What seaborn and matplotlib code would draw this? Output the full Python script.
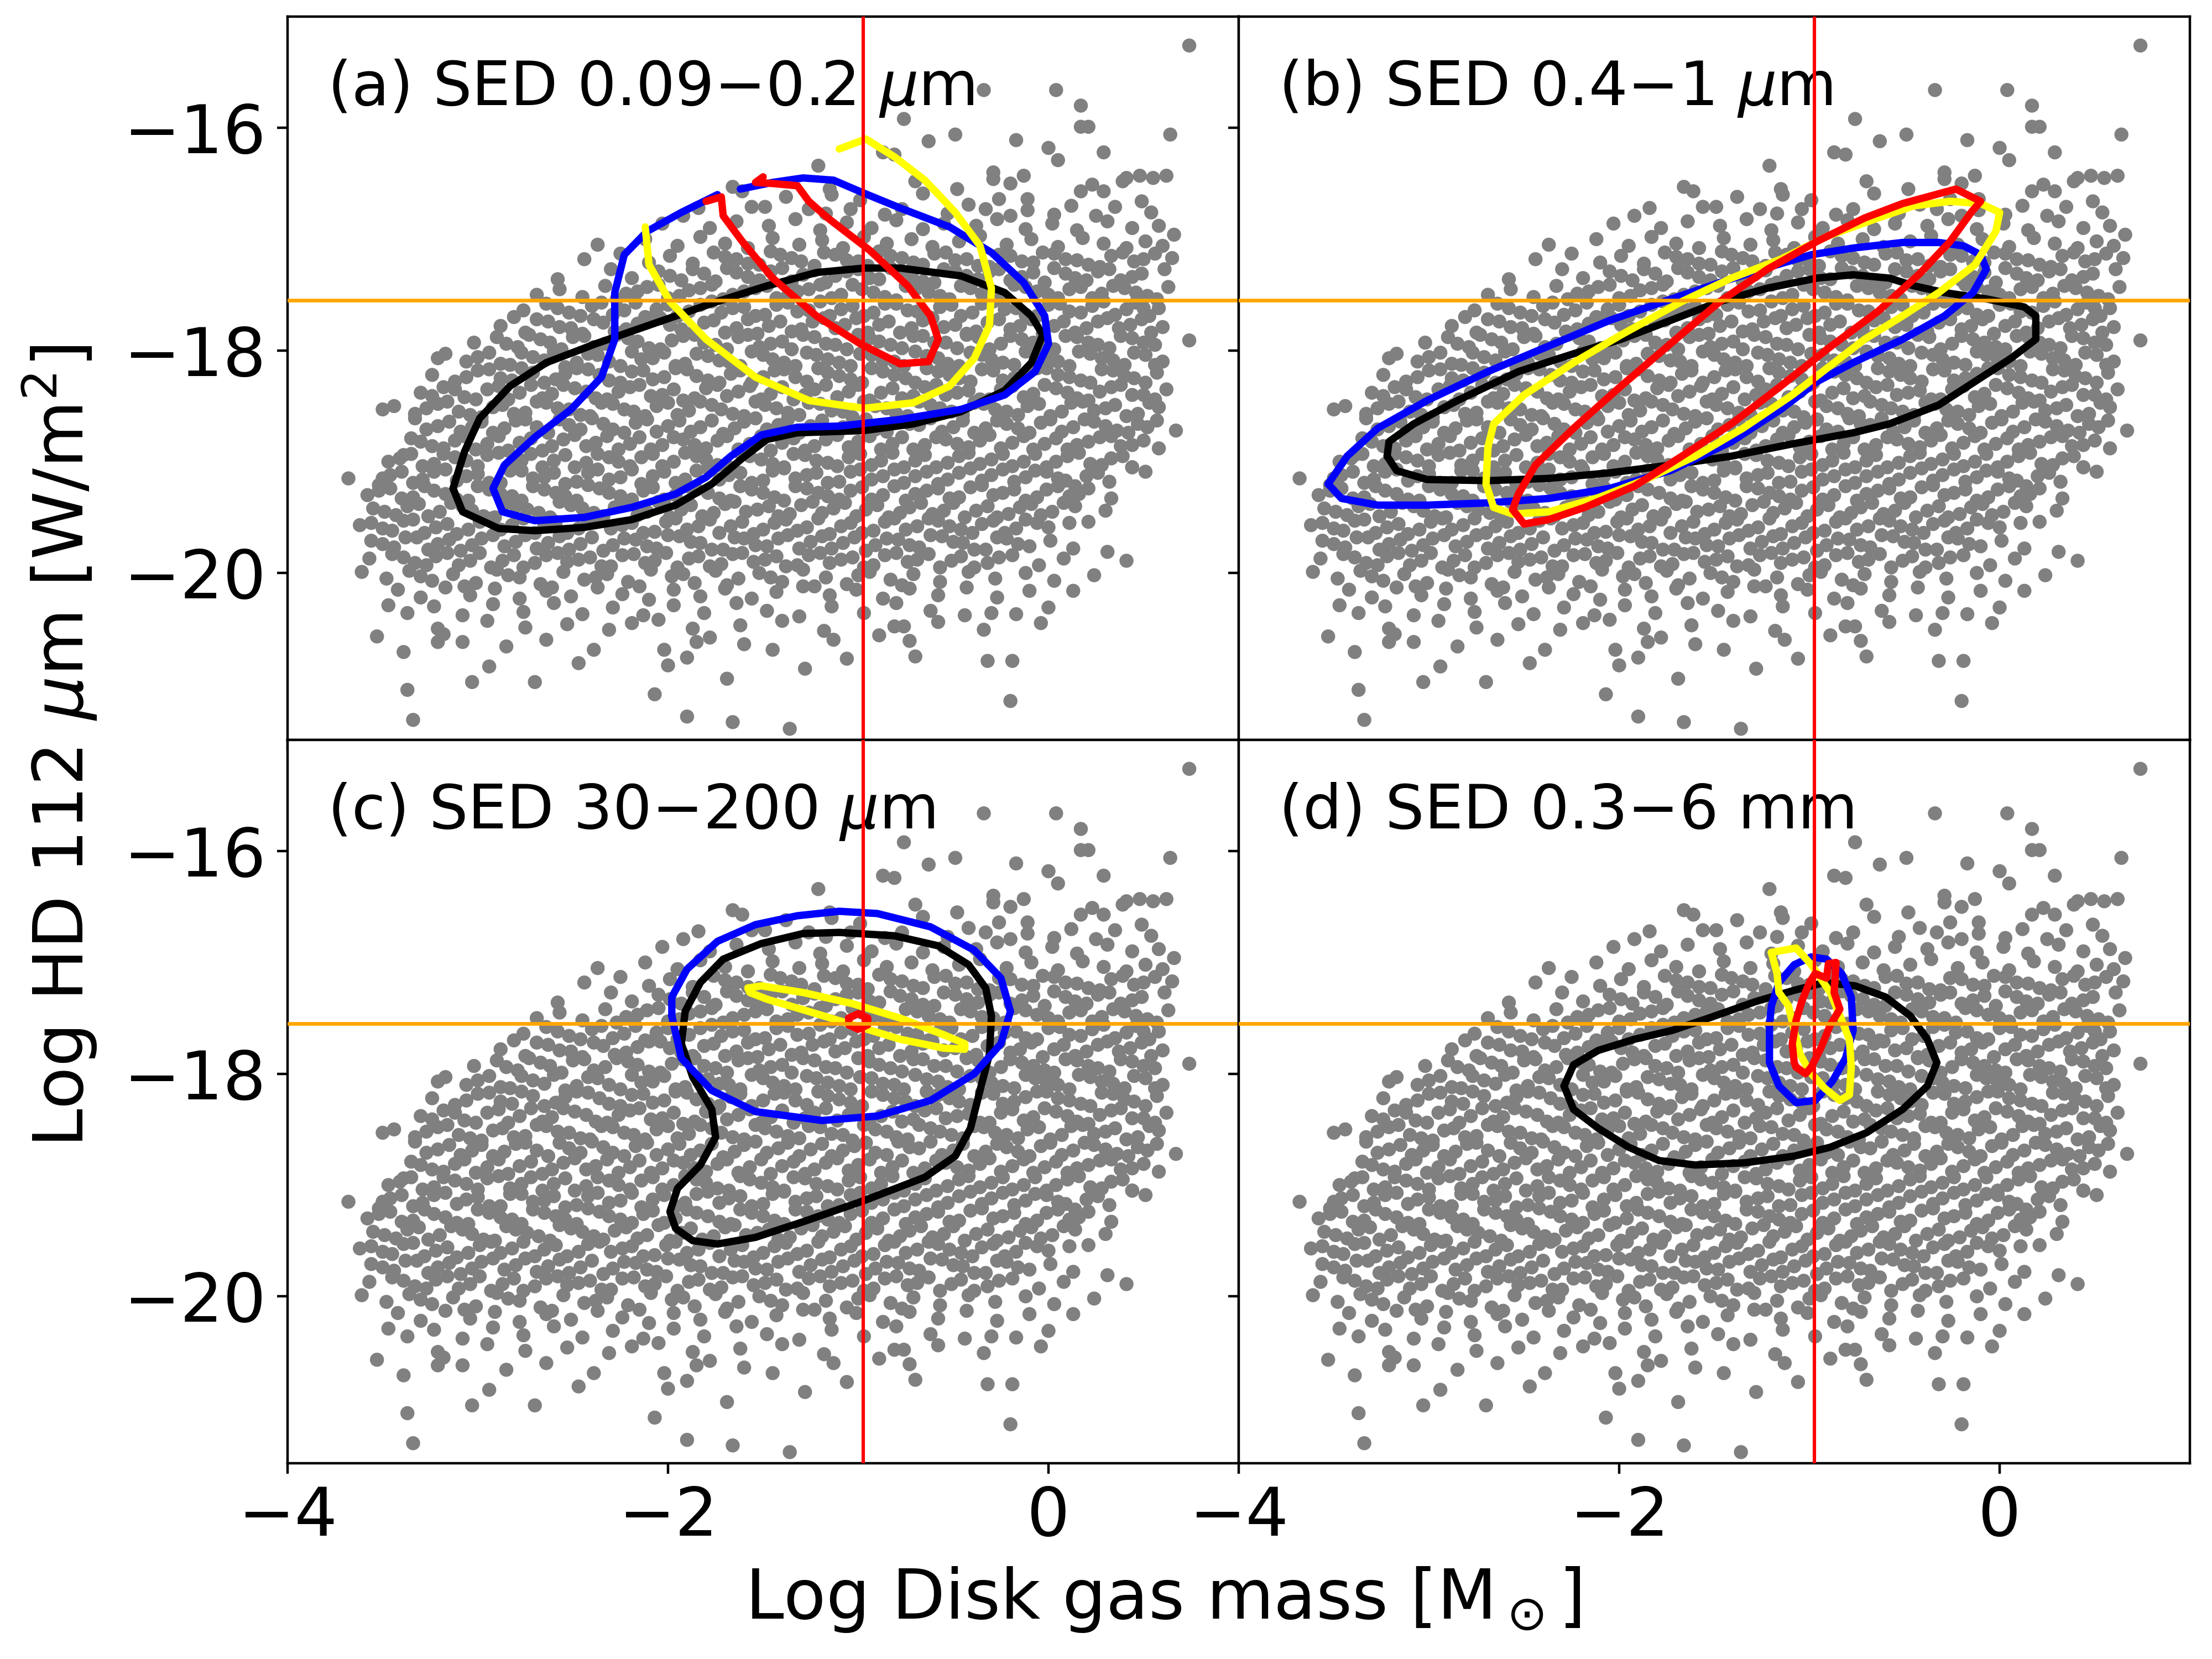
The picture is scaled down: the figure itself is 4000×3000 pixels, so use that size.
"""
HD 112 um line flux vs disk gas mass, four SED wavelength windows.

Grey cloud = full model grid (same in every panel), coloured lines =
density contours of the models that fit each SED window.
"""

import numpy as np
import pandas as pd
import matplotlib
matplotlib.use("Agg")
import matplotlib.pyplot as plt
import seaborn as sns

# ---------------------------------------------------------------------------
# data
# ---------------------------------------------------------------------------

# model grid: (log disk gas mass, log HD 112um flux)
CLOUD_MAIN = [
    # sparse top
    (0.74, -15.26), (-0.34, -15.66), (0.04, -15.66), (0.17, -15.80), (0.17, -15.99), (0.21, -15.99),
    (-0.76, -15.92), (-0.49, -16.06), (-0.63, -16.12), (-0.17, -16.11), (0.64, -16.06), (0.00, -16.18),
    (0.05, -16.29), (0.29, -16.22), (-0.87, -16.22), (-0.81, -16.24), (-1.21, -16.34), (-0.70, -16.48),
    (-0.29, -16.40), (-0.29, -16.46), (-0.13, -16.43), (-0.20, -16.50), (0.39, -16.48), (0.41, -16.45),
    (0.48, -16.43), (0.55, -16.45), (0.62, -16.43),
    (-0.48, -16.55), (-0.66, -16.59), (-1.15, -16.55), (-1.14, -16.60), (-1.66, -16.53), (-1.61, -16.57),
    (-1.38, -16.62), (-0.99, -16.65), (0.23, -16.51), (0.17, -16.57), (0.29, -16.57), (0.49, -16.66),
    (0.54, -16.76), (0.35, -16.71), (0.12, -16.70), (-0.26, -16.64), (-0.33, -16.73), (-0.11, -16.64),
    (-0.11, -16.74), (-0.53, -16.77), (-0.77, -16.73), (-1.04, -16.73), (-1.26, -16.73), (-1.17, -16.77),
    (-1.49, -16.71), (-1.56, -16.71), (-1.84, -16.72), (-1.92, -16.79), (0.03, -16.78), (-0.42, -16.69),
    (-0.86, -16.78), (0.25, -16.79), (-0.20, -16.79),
    (-2.03, -16.86), (-1.78, -16.90), (-1.64, -16.84), (-1.47, -16.88), (-1.33, -16.82), (-1.20, -16.92),
    (-1.06, -16.85), (-0.93, -16.90), (-0.80, -16.83), (-0.66, -16.91), (-0.55, -16.86), (-0.38, -16.88),
    (-0.27, -16.82), (-0.12, -16.91), (0.02, -16.86), (0.15, -16.92), (0.31, -16.84), (0.44, -16.90),
    (0.66, -16.96), (0.58, -16.88),
    (-2.37, -17.05), (-2.12, -17.00), (-1.95, -17.06), (-1.83, -16.98), (-1.70, -17.04), (-1.58, -17.08),
    (-1.45, -16.99), (-1.31, -17.05), (-1.19, -17.01), (-1.08, -17.08), (-0.97, -16.98), (-0.85, -17.04),
    (-0.72, -17.00), (-0.61, -17.07), (-0.47, -17.02), (-0.36, -16.97), (-0.22, -17.05), (-0.09, -17.00),
    (0.05, -17.07), (0.18, -16.99), (0.29, -17.04), (0.41, -17.08), (0.51, -17.02), (0.60, -17.06),
    (-2.44, -17.18), (-2.25, -17.13), (-2.10, -17.21), (-1.99, -17.15), (-1.87, -17.22), (-1.76, -17.12),
    (-1.64, -17.18), (-1.52, -17.23), (-1.41, -17.14), (-1.30, -17.20), (-1.18, -17.12), (-1.06, -17.19),
    (-0.95, -17.24), (-0.83, -17.15), (-0.71, -17.21), (-0.60, -17.13), (-0.49, -17.19), (-0.37, -17.24),
    (-0.26, -17.14), (-0.14, -17.20), (-0.03, -17.12), (0.09, -17.18), (0.21, -17.23), (0.33, -17.15),
    (0.45, -17.20), (0.56, -17.13), (0.65, -17.17),
    (-2.30, -17.27), (-2.58, -17.36), (-2.19, -17.35), (-2.05, -17.29), (-1.93, -17.37), (-1.81, -17.31),
    (-1.69, -17.26), (-1.58, -17.34), (-1.46, -17.29), (-1.35, -17.38), (-1.23, -17.28), (-1.12, -17.33),
    (-1.00, -17.27), (-0.89, -17.36), (-0.78, -17.30), (-0.66, -17.38), (-0.55, -17.27), (-0.43, -17.33),
    (-0.31, -17.29), (-0.20, -17.37), (-0.08, -17.30), (0.03, -17.26), (0.14, -17.35), (0.26, -17.29),
    (0.38, -17.37), (0.49, -17.31), (0.61, -17.27),
    (-2.69, -17.50), (-2.57, -17.45), (-2.45, -17.52), (-2.33, -17.42), (-2.22, -17.49), (-2.11, -17.43),
    (-2.00, -17.53), (-1.89, -17.46), (-1.77, -17.41), (-1.66, -17.50), (-1.54, -17.44), (-1.43, -17.53),
    (-1.32, -17.47), (-1.20, -17.41), (-1.09, -17.50), (-0.98, -17.45), (-0.86, -17.52), (-0.75, -17.42),
    (-0.63, -17.48), (-0.52, -17.54), (-0.41, -17.44), (-0.29, -17.50), (-0.18, -17.41), (-0.06, -17.47),
    (0.05, -17.53), (0.17, -17.43), (0.28, -17.49), (0.40, -17.44), (0.52, -17.51), (0.63, -17.43),
    (-2.81, -17.70), (-2.76, -17.64), (-2.64, -17.58), (-2.52, -17.66), (-2.40, -17.60), (-2.29, -17.68),
    (-2.17, -17.57), (-2.06, -17.63), (-1.95, -17.69), (-1.83, -17.59), (-1.72, -17.66), (-1.60, -17.61),
    (-1.49, -17.68), (-1.37, -17.57), (-1.26, -17.64), (-1.15, -17.69), (-1.03, -17.60), (-0.92, -17.66),
    (-0.80, -17.58), (-0.69, -17.65), (-0.57, -17.61), (-0.46, -17.69), (-0.35, -17.58), (-0.23, -17.63),
    (-0.12, -17.68), (0.00, -17.59), (0.11, -17.65), (0.23, -17.60), (0.35, -17.68), (0.46, -17.57),
    (0.58, -17.62), (0.50, -17.62),
    (-2.88, -17.78), (-2.75, -17.84), (-2.63, -17.74), (-2.51, -17.80), (-2.39, -17.72), (-2.28, -17.83),
    (-2.16, -17.76), (-2.04, -17.71), (-1.93, -17.81), (-1.81, -17.75), (-1.70, -17.84), (-1.58, -17.72),
    (-1.47, -17.78), (-1.35, -17.83), (-1.24, -17.74), (-1.12, -17.80), (-1.01, -17.71), (-0.89, -17.77),
    (-0.78, -17.84), (-0.66, -17.73), (-0.55, -17.79), (-0.43, -17.85), (-0.32, -17.75), (-0.20, -17.81),
    (-0.09, -17.72), (0.03, -17.78), (0.14, -17.84), (0.26, -17.74), (0.37, -17.80), (0.49, -17.72),
    (0.60, -17.79),
    (-3.02, -17.93), (-2.90, -17.88), (-2.79, -17.97), (-2.67, -17.90), (-2.56, -17.99), (-2.44, -17.87),
    (-2.33, -17.94), (-2.21, -17.89), (-2.10, -17.98), (-1.98, -17.91), (-1.86, -17.86), (-1.75, -17.95),
    (-1.63, -17.88), (-1.52, -17.97), (-1.40, -17.92), (-1.29, -17.86), (-1.17, -17.94), (-1.06, -17.99),
    (-0.94, -17.89), (-0.83, -17.95), (-0.71, -17.87), (-0.60, -17.93), (-0.48, -17.98), (-0.37, -17.88),
    (-0.25, -17.94), (-0.14, -17.90), (-0.02, -17.97), (0.09, -17.87), (0.21, -17.93), (0.32, -17.98),
    (0.44, -17.89), (0.56, -17.95), (0.74, -17.91),
    (-3.21, -18.07), (-3.17, -18.03), (-3.06, -18.10), (-2.94, -18.02), (-2.83, -18.13), (-2.71, -18.06),
    (-2.60, -18.01), (-2.48, -18.11), (-2.37, -18.04), (-2.25, -18.14), (-2.14, -18.08), (-2.02, -18.02),
    (-1.91, -18.12), (-1.79, -18.05), (-1.68, -18.10), (-1.56, -18.01), (-1.45, -18.08), (-1.33, -18.14),
    (-1.22, -18.04), (-1.10, -18.11), (-0.99, -18.03), (-0.87, -18.09), (-0.76, -18.14), (-0.64, -18.05),
    (-0.53, -18.12), (-0.41, -18.02), (-0.30, -18.08), (-0.18, -18.13), (-0.07, -18.04), (0.05, -18.10),
    (0.16, -18.01), (0.28, -18.07), (0.40, -18.13), (0.51, -18.04), (0.60, -18.10),
    (-3.24, -18.22), (-3.12, -18.28), (-3.00, -18.18), (-2.88, -18.25), (-2.77, -18.16), (-2.65, -18.29),
    (-2.54, -18.21), (-2.42, -18.17), (-2.31, -18.27), (-2.19, -18.19), (-2.08, -18.26), (-1.96, -18.16),
    (-1.85, -18.23), (-1.73, -18.29), (-1.62, -18.18), (-1.50, -18.24), (-1.39, -18.17), (-1.27, -18.28),
    (-1.16, -18.20), (-1.04, -18.26), (-0.93, -18.16), (-0.81, -18.22), (-0.70, -18.29), (-0.58, -18.19),
    (-0.47, -18.25), (-0.35, -18.17), (-0.24, -18.27), (-0.12, -18.21), (-0.01, -18.16), (0.11, -18.24),
    (0.22, -18.29), (0.34, -18.18), (0.45, -18.25), (0.57, -18.20),
    (-3.30, -18.38), (-3.18, -18.33), (-3.07, -18.42), (-2.95, -18.35), (-2.84, -18.44), (-2.72, -18.31),
    (-2.61, -18.39), (-2.49, -18.34), (-2.38, -18.43), (-2.26, -18.37), (-2.15, -18.31), (-2.03, -18.40),
    (-1.92, -18.45), (-1.80, -18.34), (-1.69, -18.41), (-1.57, -18.32), (-1.46, -18.39), (-1.34, -18.44),
    (-1.23, -18.35), (-1.11, -18.42), (-1.00, -18.31), (-0.88, -18.38), (-0.77, -18.43), (-0.65, -18.33),
    (-0.54, -18.40), (-0.42, -18.36), (-0.31, -18.44), (-0.19, -18.32), (-0.08, -18.39), (0.04, -18.34),
    (0.15, -18.43), (0.27, -18.37), (0.38, -18.31), (0.50, -18.40), (0.62, -18.35),
    (-3.50, -18.53), (-3.44, -18.50), (-3.33, -18.57), (-3.21, -18.48), (-3.10, -18.55), (-2.98, -18.60),
    (-2.87, -18.49), (-2.75, -18.56), (-2.64, -18.47), (-2.52, -18.53), (-2.41, -18.59), (-2.29, -18.48),
    (-2.18, -18.55), (-2.06, -18.50), (-1.95, -18.58), (-1.83, -18.46), (-1.72, -18.53), (-1.60, -18.59),
    (-1.49, -18.49), (-1.37, -18.56), (-1.26, -18.47), (-1.14, -18.54), (-1.03, -18.60), (-0.91, -18.50),
    (-0.80, -18.57), (-0.68, -18.46), (-0.57, -18.52), (-0.45, -18.58), (-0.34, -18.48), (-0.22, -18.55),
    (-0.11, -18.50), (0.01, -18.59), (0.12, -18.47), (0.24, -18.54), (0.35, -18.49), (0.47, -18.57),
    (0.58, -18.51),
    (-3.33, -18.61), (-3.21, -18.68), (-3.09, -18.73), (-2.98, -18.64), (-2.86, -18.70), (-2.75, -18.62),
    (-2.63, -18.74), (-2.52, -18.67), (-2.40, -18.61), (-2.29, -18.71), (-2.17, -18.65), (-2.06, -18.73),
    (-1.94, -18.63), (-1.83, -18.69), (-1.71, -18.75), (-1.60, -18.64), (-1.48, -18.71), (-1.37, -18.62),
    (-1.25, -18.68), (-1.14, -18.74), (-1.02, -18.65), (-0.91, -18.71), (-0.79, -18.61), (-0.68, -18.67),
    (-0.56, -18.73), (-0.45, -18.63), (-0.33, -18.70), (-0.22, -18.66), (-0.10, -18.74), (0.01, -18.62),
    (0.13, -18.69), (0.24, -18.64), (0.36, -18.72), (0.47, -18.66), (0.67, -18.72), (0.57, -18.63),
    (-3.39, -18.94), (-3.30, -18.82), (-3.18, -18.88), (-3.07, -18.77), (-2.95, -18.84), (-2.84, -18.90),
    (-2.72, -18.79), (-2.61, -18.86), (-2.49, -18.76), (-2.38, -18.83), (-2.26, -18.89), (-2.15, -18.78),
    (-2.03, -18.85), (-1.92, -18.80), (-1.80, -18.88), (-1.69, -18.77), (-1.57, -18.84), (-1.46, -18.90),
    (-1.34, -18.79), (-1.23, -18.86), (-1.11, -18.76), (-1.00, -18.82), (-0.88, -18.89), (-0.77, -18.78),
    (-0.65, -18.85), (-0.54, -18.80), (-0.42, -18.87), (-0.31, -18.76), (-0.19, -18.83), (-0.08, -18.89),
    (0.04, -18.79), (0.15, -18.85), (0.27, -18.78), (0.38, -18.86), (0.50, -18.81), (0.58, -18.88),
    (-3.47, -19.00), (-3.35, -18.93), (-3.23, -19.02), (-3.12, -18.96), (-3.00, -19.04), (-2.89, -18.92),
    (-2.77, -18.99), (-2.66, -19.05), (-2.54, -18.94), (-2.43, -19.01), (-2.31, -18.96), (-2.20, -19.04),
    (-2.08, -18.93), (-1.97, -19.00), (-1.85, -18.95), (-1.74, -19.03), (-1.62, -18.92), (-1.51, -18.98),
    (-1.39, -19.05), (-1.28, -18.94), (-1.16, -19.01), (-1.05, -18.96), (-0.93, -19.03), (-0.82, -18.92),
    (-0.70, -18.99), (-0.59, -19.05), (-0.47, -18.95), (-0.36, -19.02), (-0.24, -18.93), (-0.13, -19.00),
    (-0.01, -19.05), (0.10, -18.95), (0.22, -19.02), (0.33, -18.97), (0.44, -19.05), (0.51, -19.09),
    (-3.68, -19.15), (-3.50, -19.15), (-3.52, -19.21), (-3.40, -19.09), (-3.29, -19.16), (-3.17, -19.07),
    (-3.06, -19.13), (-2.94, -19.19), (-2.83, -19.08), (-2.71, -19.15), (-2.60, -19.10), (-2.48, -19.18),
    (-2.37, -19.07), (-2.25, -19.14), (-2.14, -19.20), (-2.02, -19.09), (-1.91, -19.16), (-1.79, -19.06),
    (-1.68, -19.12), (-1.56, -19.19), (-1.45, -19.08), (-1.33, -19.15), (-1.22, -19.10), (-1.10, -19.18),
    (-0.99, -19.07), (-0.87, -19.13), (-0.76, -19.19), (-0.64, -19.09), (-0.53, -19.16), (-0.41, -19.06),
    (-0.30, -19.12), (-0.18, -19.18), (-0.07, -19.08), (0.05, -19.15), (0.14, -19.22), (0.26, -19.10),
    (0.44, -19.05),
    (-3.58, -19.30), (-3.46, -19.24), (-3.34, -19.32), (-3.23, -19.26), (-3.11, -19.34), (-3.00, -19.22),
    (-2.88, -19.29), (-2.77, -19.35), (-2.65, -19.25), (-2.54, -19.31), (-2.42, -19.21), (-2.31, -19.28),
    (-2.19, -19.34), (-2.08, -19.23), (-1.96, -19.30), (-1.85, -19.25), (-1.73, -19.33), (-1.62, -19.22),
    (-1.50, -19.28), (-1.39, -19.35), (-1.27, -19.24), (-1.16, -19.31), (-1.04, -19.26), (-0.93, -19.34),
    (-0.81, -19.22), (-0.70, -19.29), (-0.58, -19.24), (-0.47, -19.32), (-0.35, -19.21), (-0.24, -19.28),
    (-0.12, -19.35), (-0.01, -19.25), (0.11, -19.31), (0.21, -19.24), (0.33, -19.33),
    (-3.55, -19.42), (-3.43, -19.48), (-3.31, -19.38), (-3.20, -19.45), (-3.08, -19.40), (-2.97, -19.49),
    (-2.85, -19.37), (-2.74, -19.43), (-2.62, -19.50), (-2.51, -19.39), (-2.39, -19.46), (-2.28, -19.41),
    (-2.16, -19.48), (-2.05, -19.36), (-1.93, -19.43), (-1.82, -19.49), (-1.70, -19.38), (-1.59, -19.45),
    (-1.47, -19.40), (-1.36, -19.47), (-1.24, -19.36), (-1.13, -19.42), (-1.01, -19.49), (-0.90, -19.39),
    (-0.78, -19.46), (-0.67, -19.37), (-0.55, -19.44), (-0.44, -19.50), (-0.32, -19.40), (-0.21, -19.47),
    (-0.09, -19.38), (0.02, -19.45), (0.14, -19.40), (0.30, -19.44),
    (-3.62, -19.57), (-3.56, -19.55), (-3.45, -19.62), (-3.34, -19.52), (-3.22, -19.59), (-3.11, -19.65),
    (-2.99, -19.54), (-2.88, -19.61), (-2.76, -19.51), (-2.65, -19.58), (-2.53, -19.64), (-2.42, -19.53),
    (-2.30, -19.60), (-2.19, -19.55), (-2.07, -19.63), (-1.96, -19.51), (-1.84, -19.58), (-1.73, -19.64),
    (-1.61, -19.54), (-1.50, -19.61), (-1.38, -19.52), (-1.27, -19.59), (-1.15, -19.65), (-1.04, -19.55),
    (-0.92, -19.62), (-0.81, -19.51), (-0.69, -19.58), (-0.58, -19.53), (-0.46, -19.61), (-0.35, -19.56),
    (-0.23, -19.64), (-0.12, -19.52), (0.00, -19.59), (0.11, -19.55), (0.21, -19.54),
    (-3.56, -19.71), (-3.44, -19.77), (-3.32, -19.68), (-3.21, -19.74), (-3.09, -19.80), (-2.98, -19.69),
    (-2.86, -19.76), (-2.75, -19.66), (-2.63, -19.73), (-2.52, -19.79), (-2.40, -19.68), (-2.29, -19.75),
    (-2.17, -19.70), (-2.06, -19.78), (-1.94, -19.67), (-1.83, -19.73), (-1.71, -19.79), (-1.60, -19.69),
    (-1.48, -19.76), (-1.37, -19.66), (-1.25, -19.72), (-1.14, -19.78), (-1.02, -19.68), (-0.91, -19.75),
    (-0.79, -19.70), (-0.68, -19.77), (-0.56, -19.67), (-0.45, -19.73), (-0.33, -19.79), (-0.22, -19.69),
    (-0.10, -19.76), (0.01, -19.71), (0.13, -19.78), (0.31, -19.81),
    (-3.57, -19.87), (-3.45, -19.83), (-3.33, -19.91), (-3.22, -19.85), (-3.10, -19.93), (-2.99, -19.82),
    (-2.87, -19.89), (-2.76, -19.95), (-2.64, -19.84), (-2.53, -19.90), (-2.41, -19.86), (-2.30, -19.94),
    (-2.18, -19.83), (-2.07, -19.89), (-1.95, -19.95), (-1.84, -19.85), (-1.72, -19.92), (-1.61, -19.82),
    (-1.49, -19.88), (-1.38, -19.94), (-1.26, -19.84), (-1.15, -19.91), (-1.03, -19.86), (-0.92, -19.93),
    (-0.80, -19.82), (-0.69, -19.88), (-0.57, -19.95), (-0.46, -19.85), (-0.32, -19.91), (-0.19, -19.84),
    (-0.05, -19.93), (0.08, -19.87), (0.41, -19.89),
    (-3.61, -19.99), (-3.48, -20.05), (-3.36, -19.98), (-3.24, -20.07), (-3.13, -20.01), (-3.01, -20.09),
    (-2.90, -19.97), (-2.78, -20.04), (-2.67, -20.10), (-2.55, -19.99), (-2.44, -20.06), (-2.32, -20.01),
    (-2.21, -20.08), (-2.09, -19.97), (-1.98, -20.03), (-1.86, -20.09), (-1.75, -19.98), (-1.63, -20.05),
    (-1.52, -20.00), (-1.40, -20.08), (-1.29, -19.97), (-1.17, -20.04), (-1.06, -20.10), (-0.94, -19.99),
    (-0.83, -20.06), (-0.71, -20.01), (-0.57, -20.08), (-0.42, -19.99), (-0.28, -20.05), (-0.12, -20.00),
    (0.03, -20.07), (0.24, -20.02),
    (-3.42, -20.15), (-3.30, -20.22), (-3.17, -20.13), (-3.04, -20.20), (-2.91, -20.14), (-2.78, -20.23),
    (-2.64, -20.16), (-2.51, -20.21), (-2.37, -20.13), (-2.24, -20.19), (-2.10, -20.24), (-1.97, -20.15),
    (-1.83, -20.21), (-1.70, -20.14), (-1.56, -20.23), (-1.43, -20.17), (-1.29, -20.12), (-1.15, -20.20),
    (-1.01, -20.15), (-0.87, -20.23), (-0.73, -20.14), (-0.58, -20.20), (-0.43, -20.13), (-0.27, -20.22),
    (-0.10, -20.16), (0.13, -20.16),
    (-3.47, -20.29), (-3.37, -20.36), (-3.23, -20.30), (-3.08, -20.38), (-2.92, -20.28), (-2.76, -20.35),
    (-2.60, -20.27), (-2.45, -20.37), (-2.29, -20.31), (-2.13, -20.38), (-1.97, -20.29), (-1.81, -20.36),
    (-1.64, -20.27), (-1.48, -20.34), (-1.31, -20.39), (-1.14, -20.30), (-0.97, -20.36), (-0.80, -20.27),
    (-0.62, -20.34), (-0.44, -20.38), (-0.30, -20.36), (-0.17, -20.37), (0.00, -20.31),
    # sparse bottom
    (-3.53, -20.57), (-3.21, -20.50), (-3.18, -20.55), (-2.95, -20.43), (-2.75, -20.49), (-2.53, -20.46),
    (-2.31, -20.51), (-2.19, -20.45), (-2.05, -20.42), (-1.87, -20.50), (-1.62, -20.47), (-1.40, -20.43),
    (-1.18, -20.52), (-0.81, -20.48), (-0.76, -20.48), (-0.34, -20.51), (-0.04, -20.45), (-0.58, -20.44),
    (-3.39, -20.71), (-3.21, -20.62), (-3.08, -20.62), (-2.94, -20.84), (-2.85, -20.66), (-2.47, -20.81),
    (-2.39, -20.69), (-2.02, -20.69), (-1.90, -20.76), (-1.78, -20.58), (-1.85, -20.62), (-1.45, -20.69),
    (-1.13, -20.60), (-0.89, -20.56), (-0.73, -20.61), (-0.70, -20.75), (-0.19, -20.79), (-0.32, -20.79),
    (-2.64, -20.60), (-1.60, -20.64),
    (-3.37, -21.05), (-3.34, -21.32), (-3.03, -20.98), (-2.70, -20.98), (-2.00, -20.83), (-2.07, -21.09),
    (-1.90, -21.29), (-1.69, -20.95), (-1.66, -21.34), (-1.36, -21.40), (-1.28, -20.86), (-1.06, -20.77),
    (-0.20, -21.15),
]

# extra models filling the dense core of the cloud
CLOUD_FILL = [
    (-1.70, -17.16), (-1.58, -17.22), (-1.46, -17.11), (-1.35, -17.17), (-1.23, -17.24), (-1.12, -17.14),
    (-1.00, -17.20), (-0.89, -17.11), (-0.77, -17.17), (-0.66, -17.23), (-0.54, -17.12), (-0.43, -17.18),
    (-0.31, -17.25), (-0.20, -17.15), (-0.08, -17.21), (0.03, -17.13), (0.15, -17.19), (0.27, -17.25),
    (0.39, -17.12), (0.50, -17.18),
    (-1.99, -17.33), (-1.87, -17.27), (-1.75, -17.38), (-1.64, -17.30), (-1.52, -17.37), (-1.40, -17.26),
    (-1.29, -17.32), (-1.17, -17.39), (-1.06, -17.29), (-0.94, -17.35), (-0.83, -17.26), (-0.72, -17.33),
    (-0.60, -17.39), (-0.49, -17.29), (-0.37, -17.36), (-0.26, -17.27), (-0.14, -17.34), (-0.02, -17.39),
    (0.09, -17.31), (0.20, -17.37), (0.32, -17.27), (0.44, -17.34),
    (-2.27, -17.54), (-2.16, -17.47), (-2.05, -17.41), (-1.94, -17.51), (-1.83, -17.44), (-1.71, -17.54),
    (-1.60, -17.47), (-1.48, -17.42), (-1.37, -17.51), (-1.26, -17.45), (-1.14, -17.53), (-1.03, -17.41),
    (-0.92, -17.48), (-0.80, -17.55), (-0.69, -17.44), (-0.57, -17.51), (-0.46, -17.42), (-0.35, -17.49),
    (-0.23, -17.54), (-0.12, -17.43), (0.00, -17.50), (0.11, -17.45), (0.23, -17.53), (0.34, -17.42),
    (0.46, -17.48), (0.57, -17.54),
    (-2.58, -17.62), (-2.46, -17.69), (-2.35, -17.57), (-2.23, -17.64), (-2.12, -17.70), (-2.00, -17.59),
    (-1.89, -17.65), (-1.77, -17.56), (-1.66, -17.62), (-1.54, -17.69), (-1.43, -17.59), (-1.32, -17.65),
    (-1.20, -17.56), (-1.09, -17.63), (-0.97, -17.69), (-0.86, -17.58), (-0.74, -17.64), (-0.63, -17.70),
    (-0.51, -17.59), (-0.40, -17.66), (-0.29, -17.56), (-0.17, -17.62), (-0.06, -17.69), (0.06, -17.58),
    (0.17, -17.66), (0.29, -17.56), (0.41, -17.63), (0.53, -17.69),
    (-2.69, -17.72), (-2.57, -17.79), (-2.45, -17.85), (-2.34, -17.75), (-2.22, -17.81), (-2.10, -17.71),
    (-1.99, -17.77), (-1.87, -17.84), (-1.76, -17.73), (-1.64, -17.80), (-1.53, -17.85), (-1.41, -17.74),
    (-1.30, -17.81), (-1.18, -17.71), (-1.07, -17.77), (-0.95, -17.84), (-0.84, -17.74), (-0.72, -17.80),
    (-0.61, -17.71), (-0.49, -17.77), (-0.38, -17.83), (-0.26, -17.72), (-0.15, -17.78), (-0.03, -17.85),
    (0.08, -17.74), (0.20, -17.80), (0.31, -17.71), (0.43, -17.77), (0.54, -17.84),
    (-2.85, -17.94), (-2.73, -17.86), (-2.62, -17.93), (-2.50, -17.88), (-2.39, -17.97), (-2.27, -17.86),
    (-2.16, -17.92), (-2.04, -17.99), (-1.92, -17.87), (-1.81, -17.93), (-1.69, -17.99), (-1.58, -17.86),
    (-1.46, -17.94), (-1.35, -17.99), (-1.23, -17.88), (-1.12, -17.95), (-1.00, -17.86), (-0.89, -17.92),
    (-0.77, -17.98), (-0.66, -17.87), (-0.54, -17.93), (-0.43, -17.86), (-0.31, -17.99), (-0.20, -17.87),
    (-0.08, -17.93), (0.03, -17.99), (0.15, -17.88), (0.26, -17.95), (0.38, -17.87), (0.50, -17.93),
    (-3.00, -18.06), (-2.88, -18.12), (-2.77, -18.02), (-2.65, -18.09), (-2.54, -18.15), (-2.42, -18.03),
    (-2.31, -18.10), (-2.19, -18.01), (-2.08, -18.07), (-1.96, -18.14), (-1.85, -18.03), (-1.73, -18.09),
    (-1.62, -18.14), (-1.50, -18.04), (-1.39, -18.11), (-1.27, -18.02), (-1.16, -18.08), (-1.04, -18.14),
    (-0.93, -18.04), (-0.81, -18.10), (-0.70, -18.01), (-0.58, -18.07), (-0.47, -18.14), (-0.35, -18.04),
    (-0.24, -18.11), (-0.12, -18.01), (-0.01, -18.08), (0.11, -18.14), (0.22, -18.03), (0.34, -18.09),
    (0.45, -18.02), (0.56, -18.13),
    (-3.06, -18.24), (-2.94, -18.17), (-2.82, -18.27), (-2.71, -18.20), (-2.59, -18.26), (-2.48, -18.16),
    (-2.36, -18.22), (-2.25, -18.29), (-2.13, -18.18), (-2.02, -18.24), (-1.90, -18.17), (-1.79, -18.27),
    (-1.67, -18.21), (-1.56, -18.29), (-1.44, -18.18), (-1.33, -18.24), (-1.21, -18.16), (-1.10, -18.23),
    (-0.98, -18.29), (-0.87, -18.19), (-0.75, -18.25), (-0.64, -18.16), (-0.52, -18.22), (-0.41, -18.28),
    (-0.29, -18.18), (-0.18, -18.25), (-0.06, -18.16), (0.05, -18.22), (0.17, -18.27), (0.28, -18.17),
    (0.40, -18.23), (0.51, -18.29),
    (-3.24, -18.41), (-3.12, -18.35), (-3.01, -18.44), (-2.89, -18.32), (-2.78, -18.38), (-2.66, -18.43),
    (-2.55, -18.31), (-2.43, -18.37), (-2.32, -18.44), (-2.20, -18.33), (-2.09, -18.41), (-1.97, -18.35),
    (-1.86, -18.43), (-1.74, -18.31), (-1.63, -18.37), (-1.51, -18.44), (-1.40, -18.33), (-1.28, -18.40),
    (-1.17, -18.31), (-1.05, -18.37), (-0.94, -18.45), (-0.82, -18.34), (-0.71, -18.41), (-0.59, -18.31),
    (-0.48, -18.38), (-0.36, -18.44), (-0.25, -18.35), (-0.13, -18.42), (-0.02, -18.31), (0.10, -18.38),
    (0.21, -18.45), (0.33, -18.33), (0.44, -18.40), (0.56, -18.44),
    (-3.27, -18.52), (-3.16, -18.46), (-3.04, -18.58), (-2.92, -18.51), (-2.81, -18.57), (-2.69, -18.46),
    (-2.58, -18.52), (-2.46, -18.58), (-2.35, -18.47), (-2.23, -18.53), (-2.12, -18.59), (-2.00, -18.47),
    (-1.89, -18.54), (-1.77, -18.49), (-1.66, -18.57), (-1.54, -18.46), (-1.43, -18.52), (-1.31, -18.58),
    (-1.20, -18.48), (-1.08, -18.55), (-0.97, -18.46), (-0.85, -18.52), (-0.74, -18.59), (-0.62, -18.49),
    (-0.51, -18.55), (-0.39, -18.47), (-0.28, -18.53), (-0.16, -18.58), (-0.05, -18.48), (0.07, -18.55),
    (0.18, -18.46), (0.30, -18.52), (0.41, -18.59), (0.53, -18.47),
    (-3.27, -18.71), (-3.15, -18.64), (-3.03, -18.69), (-2.92, -18.74), (-2.80, -18.63), (-2.69, -18.69),
    (-2.57, -18.62), (-2.46, -18.71), (-2.34, -18.66), (-2.23, -18.74), (-2.11, -18.62), (-2.00, -18.68),
    (-1.88, -18.73), (-1.77, -18.63), (-1.65, -18.70), (-1.54, -18.61), (-1.42, -18.67), (-1.31, -18.74),
    (-1.19, -18.63), (-1.08, -18.69), (-0.96, -18.62), (-0.85, -18.73), (-0.73, -18.66), (-0.62, -18.61),
    (-0.50, -18.69), (-0.39, -18.74), (-0.27, -18.63), (-0.16, -18.70), (-0.04, -18.65), (0.07, -18.73),
    (0.19, -18.62), (0.30, -18.68), (0.42, -18.74), (0.52, -18.69),
    (-3.35, -18.79), (-3.24, -18.86), (-3.12, -18.81), (-3.01, -18.89), (-2.89, -18.77), (-2.78, -18.83),
    (-2.66, -18.90), (-2.55, -18.80), (-2.43, -18.86), (-2.32, -18.77), (-2.20, -18.84), (-2.09, -18.89),
    (-1.97, -18.78), (-1.86, -18.85), (-1.74, -18.81), (-1.63, -18.89), (-1.51, -18.77), (-1.40, -18.83),
    (-1.28, -18.90), (-1.17, -18.80), (-1.05, -18.87), (-0.94, -18.77), (-0.82, -18.84), (-0.71, -18.89),
    (-0.59, -18.78), (-0.48, -18.84), (-0.36, -18.81), (-0.25, -18.88), (-0.13, -18.77), (-0.02, -18.84),
    (0.10, -18.89), (0.21, -18.82), (0.33, -18.77), (0.44, -18.85),
    (-3.41, -18.97), (-3.29, -19.04), (-3.18, -18.93), (-3.06, -18.99), (-2.95, -18.94), (-2.83, -19.03),
    (-2.72, -18.93), (-2.60, -18.99), (-2.49, -19.05), (-2.37, -18.93), (-2.26, -19.00), (-2.14, -18.96),
    (-2.03, -19.04), (-1.91, -18.92), (-1.80, -18.98), (-1.68, -19.05), (-1.57, -18.95), (-1.45, -19.02),
    (-1.34, -18.93), (-1.22, -18.99), (-1.11, -19.04), (-0.99, -18.93), (-0.88, -18.99), (-0.76, -19.05),
    (-0.65, -18.94), (-0.53, -19.01), (-0.42, -18.92), (-0.30, -18.98), (-0.19, -19.04), (-0.07, -18.93),
    (0.04, -19.00), (0.16, -18.92), (0.28, -19.03), (0.39, -18.95),
    (-3.46, -19.12), (-3.34, -19.19), (-3.23, -19.09), (-3.11, -19.17), (-3.00, -19.11), (-2.88, -19.19),
    (-2.77, -19.08), (-2.65, -19.14), (-2.54, -19.20), (-2.42, -19.10), (-2.31, -19.16), (-2.19, -19.07),
    (-2.08, -19.13), (-1.96, -19.19), (-1.85, -19.08), (-1.73, -19.16), (-1.62, -19.10), (-1.50, -19.17),
    (-1.39, -19.06), (-1.27, -19.12), (-1.16, -19.19), (-1.04, -19.09), (-0.93, -19.16), (-0.81, -19.07),
    (-0.70, -19.13), (-0.58, -19.20), (-0.47, -19.10), (-0.35, -19.17), (-0.24, -19.07), (-0.12, -19.14),
    (-0.01, -19.09), (0.09, -19.17), (0.20, -19.13), (0.32, -19.18),
    (-3.52, -19.26), (-3.40, -19.33), (-3.28, -19.22), (-3.17, -19.29), (-3.05, -19.35), (-2.94, -19.25),
    (-2.82, -19.31), (-2.71, -19.22), (-2.59, -19.28), (-2.48, -19.35), (-2.36, -19.24), (-2.25, -19.31),
    (-2.13, -19.26), (-2.02, -19.34), (-1.90, -19.22), (-1.79, -19.28), (-1.67, -19.35), (-1.56, -19.25),
    (-1.44, -19.32), (-1.33, -19.22), (-1.21, -19.28), (-1.10, -19.34), (-0.98, -19.23), (-0.87, -19.30),
    (-0.75, -19.35), (-0.64, -19.26), (-0.52, -19.33), (-0.41, -19.23), (-0.29, -19.30), (-0.18, -19.25),
    (-0.06, -19.32), (0.05, -19.22), (0.16, -19.29),
    (-3.49, -19.45), (-3.37, -19.40), (-3.26, -19.49), (-3.14, -19.37), (-3.03, -19.44), (-2.91, -19.50),
    (-2.80, -19.40), (-2.68, -19.46), (-2.57, -19.36), (-2.45, -19.42), (-2.34, -19.49), (-2.22, -19.38),
    (-2.11, -19.45), (-1.99, -19.50), (-1.88, -19.39), (-1.76, -19.46), (-1.65, -19.36), (-1.53, -19.43),
    (-1.42, -19.49), (-1.30, -19.39), (-1.19, -19.46), (-1.07, -19.37), (-0.96, -19.43), (-0.84, -19.50),
    (-0.73, -19.41), (-0.61, -19.47), (-0.50, -19.37), (-0.38, -19.44), (-0.27, -19.50), (-0.15, -19.41),
    (-0.04, -19.48), (0.08, -19.37),
    (-3.50, -19.60), (-3.39, -19.53), (-3.28, -19.64), (-3.16, -19.56), (-3.05, -19.61), (-2.93, -19.51),
    (-2.82, -19.57), (-2.70, -19.64), (-2.59, -19.54), (-2.47, -19.60), (-2.36, -19.51), (-2.24, -19.57),
    (-2.13, -19.64), (-2.01, -19.54), (-1.90, -19.61), (-1.78, -19.52), (-1.67, -19.58), (-1.55, -19.65),
    (-1.44, -19.55), (-1.32, -19.62), (-1.21, -19.51), (-1.09, -19.58), (-0.98, -19.64), (-0.86, -19.54),
    (-0.75, -19.61), (-0.63, -19.51), (-0.52, -19.58), (-0.40, -19.64), (-0.29, -19.53), (-0.17, -19.60),
    (-0.06, -19.55),
    (-3.50, -19.74), (-3.38, -19.68), (-3.26, -19.79), (-3.15, -19.70), (-3.03, -19.75), (-2.92, -19.66),
    (-2.80, -19.72), (-2.69, -19.78), (-2.57, -19.67), (-2.46, -19.74), (-2.34, -19.80), (-2.23, -19.69),
    (-2.11, -19.76), (-2.00, -19.66), (-1.88, -19.72), (-1.77, -19.79), (-1.65, -19.68), (-1.54, -19.75),
    (-1.42, -19.69), (-1.31, -19.78), (-1.19, -19.67), (-1.08, -19.73), (-0.96, -19.80), (-0.85, -19.69),
    (-0.73, -19.75), (-0.62, -19.66), (-0.50, -19.72), (-0.39, -19.79), (-0.27, -19.68), (-0.16, -19.74),
    (-3.39, -19.86), (-3.27, -19.93), (-3.16, -19.82), (-3.04, -19.89), (-2.93, -19.95), (-2.81, -19.84),
    (-2.70, -19.91), (-2.58, -19.82), (-2.47, -19.88), (-2.35, -19.94), (-2.24, -19.84), (-2.12, -19.91),
    (-2.01, -19.82), (-1.89, -19.87), (-1.78, -19.94), (-1.66, -19.83), (-1.55, -19.90), (-1.43, -19.85),
    (-1.32, -19.93), (-1.20, -19.82), (-1.09, -19.88), (-0.97, -19.95), (-0.86, -19.84), (-0.74, -19.90),
    (-0.63, -19.83), (-0.51, -19.89), (-0.39, -19.95), (-0.26, -19.86),
    (-3.30, -20.03), (-3.07, -20.12), (-2.84, -20.02), (-2.61, -20.13), (-2.38, -20.04), (-2.15, -20.12),
    (-1.92, -20.01), (-1.69, -20.11), (-1.46, -20.04), (-1.23, -20.12), (-1.00, -20.02), (-0.77, -20.11),
]

# reference lines
GAS_MASS_REF = -0.975
HD_FLUX_REF = -17.55

PANEL_LABELS = [
    r"(a) SED 0.09$-$0.2 $\mu$m",
    r"(b) SED 0.4$-$1 $\mu$m",
    r"(c) SED 30$-$200 $\mu$m",
    r"(d) SED 0.3$-$6 mm",
]

# contours, panel (a)
A_BLACK = [(-3.13, -19.24), (-3.08, -19.45), (-2.89, -19.60), (-2.70, -19.62), (-2.44, -19.59), (-2.19, -19.52),
           (-1.96, -19.39), (-1.77, -19.20), (-1.61, -18.97), (-1.48, -18.80), (-1.32, -18.74), (-0.97, -18.72),
           (-0.71, -18.66), (-0.46, -18.55), (-0.23, -18.36), (-0.09, -18.11), (-0.03, -17.86), (-0.09, -17.69),
           (-0.23, -17.48), (-0.46, -17.33), (-0.78, -17.26), (-0.97, -17.26), (-1.22, -17.30), (-1.48, -17.42),
           (-1.74, -17.56), (-2.06, -17.75), (-2.38, -17.94), (-2.64, -18.11), (-2.83, -18.32), (-2.99, -18.61),
           (-3.07, -18.91)]
A_BLUE = [(-1.62, -16.55), (-1.45, -16.49), (-1.29, -16.45), (-1.13, -16.47), (-0.98, -16.58), (-0.78, -16.72),
          (-0.52, -16.89), (-0.30, -17.12), (-0.13, -17.39), (-0.02, -17.69), (0.00, -17.94), (-0.07, -18.19),
          (-0.23, -18.40), (-0.46, -18.53), (-0.78, -18.62), (-1.10, -18.68), (-1.32, -18.69), (-1.51, -18.76),
          (-1.67, -18.95), (-1.80, -19.14), (-1.96, -19.29), (-2.19, -19.41), (-2.44, -19.50), (-2.70, -19.53),
          (-2.87, -19.45), (-2.92, -19.24), (-2.86, -19.03), (-2.70, -18.78), (-2.51, -18.53), (-2.35, -18.24),
          (-2.28, -17.90), (-2.28, -17.48), (-2.23, -17.14), (-2.11, -16.93), (-1.93, -16.76), (-1.74, -16.60)]
A_YELLOW = [(-2.12, -16.89), (-2.10, -17.23), (-1.99, -17.56), (-1.80, -17.90), (-1.54, -18.24), (-1.26, -18.45),
            (-0.97, -18.52), (-0.71, -18.47), (-0.52, -18.32), (-0.39, -18.07), (-0.31, -17.77), (-0.30, -17.44),
            (-0.36, -17.06), (-0.49, -16.76), (-0.65, -16.47), (-0.81, -16.26), (-0.96, -16.10), (-1.10, -16.19)]
A_RED = [(-1.80, -16.66), (-1.72, -16.62), (-1.71, -16.79), (-1.61, -17.02), (-1.45, -17.35), (-1.22, -17.69),
         (-0.99, -17.94), (-0.78, -18.12), (-0.63, -18.10), (-0.58, -17.90), (-0.62, -17.69), (-0.74, -17.42),
         (-0.94, -17.10), (-1.16, -16.81), (-1.26, -16.66), (-1.32, -16.52), (-1.45, -16.50), (-1.54, -16.49),
         (-1.50, -16.44)]

# contours, panel (b)
B_BLACK = [(-3.22, -18.95), (-3.17, -19.08), (-3.01, -19.16), (-2.69, -19.17), (-2.37, -19.15), (-2.05, -19.10),
           (-1.73, -19.03), (-1.41, -18.95), (-1.09, -18.84), (-0.77, -18.74), (-0.58, -18.66), (-0.32, -18.49),
           (-0.13, -18.28), (0.06, -18.07), (0.19, -17.90), (0.19, -17.69), (0.13, -17.61), (-0.06, -17.54),
           (-0.29, -17.48), (-0.45, -17.42), (-0.58, -17.35), (-0.77, -17.32), (-0.96, -17.35), (-1.22, -17.44),
           (-1.47, -17.56), (-1.73, -17.73), (-1.99, -17.90), (-2.24, -18.03), (-2.53, -18.19), (-2.85, -18.45),
           (-3.08, -18.66), (-3.21, -18.82)]
B_BLUE = [(-3.53, -19.20), (-3.46, -19.33), (-3.27, -19.39), (-3.01, -19.39), (-2.69, -19.37), (-2.37, -19.33),
          (-2.05, -19.24), (-1.73, -19.08), (-1.41, -18.82), (-1.15, -18.53), (-0.96, -18.28), (-0.77, -18.11),
          (-0.51, -17.90), (-0.29, -17.69), (-0.14, -17.48), (-0.07, -17.27), (-0.10, -17.14), (-0.19, -17.06),
          (-0.32, -17.03), (-0.51, -17.03), (-0.77, -17.08), (-0.99, -17.14), (-1.25, -17.27), (-1.47, -17.39),
          (-1.73, -17.54), (-2.05, -17.73), (-2.37, -17.96), (-2.69, -18.19), (-3.01, -18.45), (-3.27, -18.70),
          (-3.43, -18.95)]
B_YELLOW = [(-2.69, -18.87), (-2.70, -19.20), (-2.66, -19.41), (-2.56, -19.47), (-2.37, -19.45), (-2.12, -19.33),
            (-1.86, -19.16), (-1.60, -18.95), (-1.35, -18.70), (-1.09, -18.40), (-0.90, -18.15), (-0.71, -17.90),
            (-0.51, -17.69), (-0.32, -17.48), (-0.13, -17.23), (-0.02, -16.93), (0.00, -16.76), (-0.10, -16.68),
            (-0.26, -16.66), (-0.45, -16.70), (-0.64, -16.81), (-0.90, -16.97), (-1.15, -17.18), (-1.41, -17.35),
            (-1.67, -17.56), (-1.99, -17.86), (-2.24, -18.11), (-2.50, -18.40), (-2.66, -18.66)]
B_RED = [(-2.56, -19.43), (-2.50, -19.56), (-2.37, -19.52), (-2.18, -19.41), (-1.92, -19.22), (-1.67, -18.95),
         (-1.41, -18.66), (-1.15, -18.32), (-0.90, -17.98), (-0.64, -17.65), (-0.42, -17.31), (-0.26, -17.02),
         (-0.15, -16.76), (-0.10, -16.66), (-0.23, -16.55), (-0.38, -16.62), (-0.51, -16.68), (-0.71, -16.81),
         (-0.96, -17.02), (-1.22, -17.27), (-1.47, -17.56), (-1.73, -17.94), (-1.99, -18.32), (-2.24, -18.70),
         (-2.44, -19.03), (-2.53, -19.29)]

# contours, panel (c)
C_BLACK = [(-1.93, -17.73), (-1.87, -18.03), (-1.77, -18.32), (-1.75, -18.57), (-1.83, -18.82), (-1.95, -19.03),
           (-1.99, -19.24), (-1.96, -19.39), (-1.87, -19.50), (-1.74, -19.53), (-1.54, -19.47), (-1.29, -19.33),
           (-0.97, -19.14), (-0.65, -18.93), (-0.49, -18.74), (-0.41, -18.49), (-0.36, -18.15), (-0.31, -17.82),
           (-0.30, -17.48), (-0.33, -17.23), (-0.42, -17.02), (-0.58, -16.85), (-0.81, -16.76), (-1.10, -16.73),
           (-1.29, -16.74), (-1.51, -16.83), (-1.71, -16.97), (-1.83, -17.18), (-1.91, -17.44)]
C_BLUE = [(-1.98, -17.48), (-1.93, -17.86), (-1.77, -18.15), (-1.54, -18.34), (-1.19, -18.42), (-0.90, -18.38),
          (-0.62, -18.24), (-0.39, -18.00), (-0.25, -17.73), (-0.20, -17.44), (-0.25, -17.14), (-0.39, -16.89),
          (-0.62, -16.68), (-0.90, -16.56), (-1.10, -16.54), (-1.32, -16.58), (-1.54, -16.66), (-1.74, -16.81),
          (-1.90, -17.06), (-1.98, -17.31)]
C_YELLOW = [(-1.58, -17.23), (-1.51, -17.21), (-1.29, -17.27), (-1.03, -17.37), (-0.78, -17.50), (-0.55, -17.65),
            (-0.44, -17.73), (-0.44, -17.78), (-0.55, -17.77), (-0.78, -17.69), (-1.03, -17.56), (-1.26, -17.44),
            (-1.48, -17.33), (-1.57, -17.27)]
C_RED = [(-1.05, -17.50), (-1.00, -17.46), (-0.95, -17.50), (-0.95, -17.56), (-1.00, -17.60), (-1.05, -17.56)]

# contours, panel (d)
D_BLACK = [(-2.29, -18.11), (-2.24, -18.32), (-2.11, -18.49), (-1.95, -18.66), (-1.79, -18.78), (-1.60, -18.82),
           (-1.34, -18.80), (-1.08, -18.74), (-0.89, -18.66), (-0.70, -18.53), (-0.51, -18.32), (-0.38, -18.11),
           (-0.33, -17.90), (-0.38, -17.69), (-0.47, -17.48), (-0.60, -17.31), (-0.76, -17.21), (-0.92, -17.18),
           (-1.08, -17.25), (-1.28, -17.35), (-1.53, -17.50), (-1.72, -17.61), (-1.92, -17.69), (-2.11, -17.79),
           (-2.24, -17.92)]
D_BLUE = [(-1.21, -17.56), (-1.21, -17.90), (-1.16, -18.11), (-1.07, -18.26), (-0.97, -18.24), (-0.88, -18.07),
          (-0.81, -17.86), (-0.77, -17.61), (-0.78, -17.31), (-0.83, -17.10), (-0.91, -16.97), (-0.99, -16.95),
          (-1.08, -17.02), (-1.16, -17.18), (-1.20, -17.39)]
D_YELLOW = [(-1.20, -16.91), (-1.07, -16.87), (-0.99, -17.02), (-0.89, -17.27), (-0.83, -17.52), (-0.79, -17.69),
            (-0.78, -17.94), (-0.79, -18.19), (-0.84, -18.24), (-0.92, -18.13), (-1.00, -17.98), (-1.05, -17.82),
            (-1.08, -17.61), (-1.11, -17.39), (-1.16, -17.27), (-1.17, -17.10)]
D_RED = [(-1.07, -17.94), (-1.02, -18.00), (-0.99, -17.94), (-0.94, -17.77), (-0.89, -17.56), (-0.84, -17.42),
         (-0.87, -17.27), (-0.86, -17.00), (-0.90, -17.01), (-0.91, -17.14), (-0.97, -17.10), (-1.00, -17.18),
         (-1.04, -17.35), (-1.07, -17.52), (-1.09, -17.73), (-1.08, -17.90)]

# (color, path, closed) per panel; draw order black, blue, yellow, red
CONTOURS = [
    [("black", A_BLACK, True), ("blue", A_BLUE, False), ("yellow", A_YELLOW, False), ("red", A_RED, False)],
    [("black", B_BLACK, True), ("blue", B_BLUE, True), ("yellow", B_YELLOW, True), ("red", B_RED, True)],
    [("black", C_BLACK, True), ("blue", C_BLUE, True), ("yellow", C_YELLOW, True), ("red", C_RED, True)],
    [("black", D_BLACK, True), ("blue", D_BLUE, True), ("yellow", D_YELLOW, True), ("red", D_RED, True)],
]


# ---------------------------------------------------------------------------
# plot
# ---------------------------------------------------------------------------

def main(out_path: str = "out.png") -> None:
    plt.rcParams["font.family"] = ["DejaVu Sans"]
    plt.rcParams["mathtext.fontset"] = "dejavusans"

    cloud = pd.DataFrame(CLOUD_MAIN + CLOUD_FILL, columns=["log_mgas", "log_hd"])

    fig, axes = plt.subplots(2, 2, figsize=(10, 7.5), sharex=True, sharey=True)
    fig.subplots_adjust(left=0.13, right=0.99, top=0.99, bottom=0.118, hspace=0, wspace=0)

    for ax, label, contours in zip(axes.flat, PANEL_LABELS, CONTOURS):
        sns.scatterplot(data=cloud, x="log_mgas", y="log_hd", color="grey", s=21,
                        linewidth=0, edgecolor="none", legend=False, ax=ax, zorder=1)

        for color, path, closed in contours:
            pts = np.array(path)
            if closed:
                pts = np.vstack([pts, pts[:1]])
            ax.plot(pts[:, 0], pts[:, 1], color=color, lw=2.4, zorder=3,
                    solid_joinstyle="round", solid_capstyle="round")

        ax.axvline(GAS_MASS_REF, color="red", lw=1.1, zorder=4)
        ax.axhline(HD_FLUX_REF, color="orange", lw=1.2, zorder=4)

        ax.text(0.042, 0.878, label, transform=ax.transAxes, fontsize=20, va="baseline")
        ax.set_xlabel("")
        ax.set_ylabel("")

    ax0 = axes[0, 0]
    ax0.set_xlim(-4, 1)
    ax0.set_ylim(-21.5, -15)
    ax0.set_xticks([-4, -2, 0])
    ax0.set_yticks([-20, -18, -16])
    for ax in axes.flat:
        ax.tick_params(labelsize=22)

    fig.text(0.5256, 0.0243, r"Log Disk gas mass [M$_\odot$]", ha="center", va="baseline", fontsize=22.5)
    fig.text(0.0268, 0.5503, r"Log HD 112 $\mu$m [W/m$^2$]", rotation=90,
             ha="center", va="center", fontsize=22.5)

    fig.savefig(out_path, dpi=400)
    plt.close(fig)


if __name__ == "__main__":
    main()
